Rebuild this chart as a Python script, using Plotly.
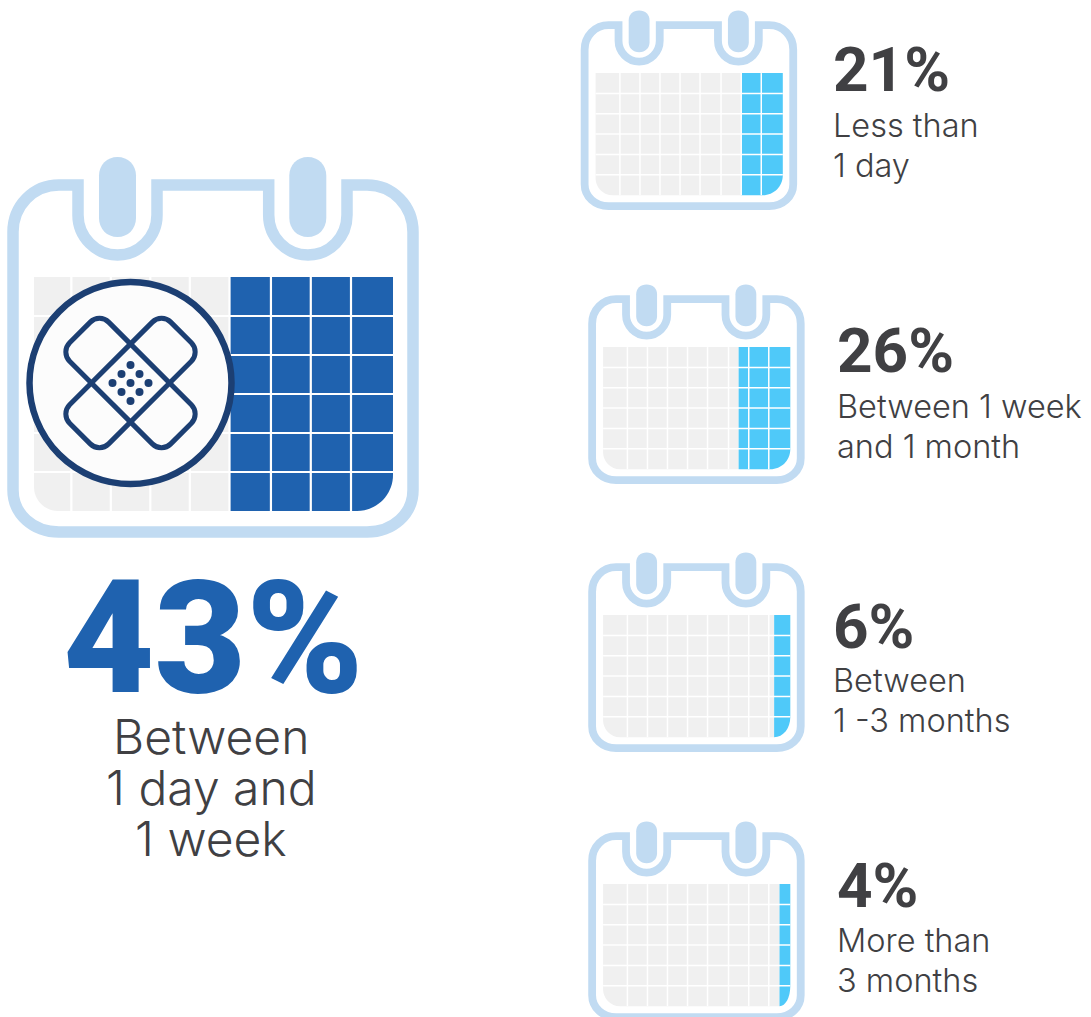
import math
import plotly.graph_objects as go

# Survey results: how long the recovery took
percent = [43, 21, 26, 6, 4]
first_line = ["Between", "Less than", "Between 1 week", "Between", "More than"]
second_line = ["1 day and", "1 day", "and 1 month", "1 -3 months", "3 months"]
third_line = ["1 week", "", "", "", ""]

WEEK_COLUMNS = 9
WEEK_ROWS = 6

FRAME = "#C1DBF2"
CELL = "#F0F0F0"
DARK_FILL = "#1F62AF"
LIGHT_FILL = "#4FC9F9"
INK = "#404043"
BADGE_LINE = "#1C3F73"
BADGE_FACE = "#FCFCFC"

# Calendar placement: left, top, scale, stroke, corner radii of the grid
SMALL_EDGES = [0, .13, .237, .344, .451, .558, .67, .778, .885, 1]
CALENDARS = [
    dict(x=7, y=179, s=1.0, stroke=11.5, line=2.2, r_in=24, r_out=36, fill=DARK_FILL, ring=0,
         edges=[0, .104, .214, .324, .434, .5446, .66, .771, .883, 1]),
    dict(x=581.5, y=22, s=.5215, stroke=7.8, line=1.5, r_in=17, r_out=20, fill=LIGHT_FILL, ring=3,
         edges=SMALL_EDGES),
    dict(x=589, y=296, s=.5215, stroke=7.8, line=1.5, r_in=17, r_out=20, fill=LIGHT_FILL, ring=3,
         edges=SMALL_EDGES),
    dict(x=589, y=564, s=.5215, stroke=7.8, line=1.5, r_in=17, r_out=20, fill=LIGHT_FILL, ring=3,
         edges=SMALL_EDGES),
    dict(x=589, y=833, s=.5215, stroke=7.8, line=1.5, r_in=17, r_out=20, fill=LIGHT_FILL, ring=3,
         edges=SMALL_EDGES),
]

# Text rows: left edge, percent row, first and second description rows
TEXT_ROWS = [
    (833, 69.5, 125, 165),
    (837, 350.5, 406, 446),
    (833, 626.5, 680, 720),
    (837, 885.5, 940, 980),
]

shapes = []


def add_path(d, fill=None, color=None, width=0, layer="above"):
    shapes.append(dict(
        type="path", path=d, xref="x", yref="y", layer=layer,
        fillcolor=fill if fill else "rgba(0,0,0,0)",
        line=dict(color=color if color else "rgba(0,0,0,0)", width=width),
    ))


def columns_filled(share):
    """Share of the week's columns, rounded up to the next quarter column."""
    return math.ceil(share / 100 * WEEK_COLUMNS * 4 - 1e-9) / 4


def draw_calendar(cal, share):
    ox, oy, s = cal["x"], cal["y"], cal["s"]

    def p(x, y):
        return f"{ox + s * (x - 7):.2f},{oy + s * (y - 179):.2f}"

    # Outline with the two loops dipping around the binder rings
    frame = (
        f"M{p(13, 232)} C{p(13, 206)} {p(33, 185)} {p(59, 185)} L{p(78, 185)} L{p(78, 215)} "
        f"C{p(78, 237)} {p(96, 255)} {p(117.5, 255)} C{p(139, 255)} {p(157, 237)} {p(157, 215)} "
        f"L{p(157, 185)} L{p(268.7, 185)} L{p(268.7, 215)} "
        f"C{p(268.7, 237)} {p(286, 255)} {p(308, 255)} C{p(330, 255)} {p(347, 237)} {p(347, 215)} "
        f"L{p(347, 185)} L{p(367, 185)} C{p(393, 185)} {p(413, 206)} {p(413, 232)} "
        f"L{p(413, 490)} C{p(413, 514)} {p(393, 532)} {p(367, 532)} "
        f"L{p(59, 532)} C{p(33, 532)} {p(13, 514)} {p(13, 490)} Z"
    )
    add_path(frame, color=FRAME, width=cal["stroke"])

    # Binder rings
    extra = cal["ring"] / 2
    for base in (99, 289.3):
        left, right, mid = base - extra, base + 37 + extra, base + 18.5
        add_path(
            f"M{p(left, 175.5)} C{p(left, 165)} {p(left + 8, 157)} {p(mid, 157)} "
            f"C{p(right - 8, 157)} {p(right, 165)} {p(right, 175.5)} L{p(right, 218)} "
            f"C{p(right, 229)} {p(right - 8, 237)} {p(mid, 237)} "
            f"C{p(left + 8, 237)} {p(left, 229)} {p(left, 218)} Z",
            fill=FRAME,
        )

    # Week grid: the grey part and the filled part share one boundary
    gx0, gx1, gy0, gy1 = 34.0, 393.0, 277.0, 511.0
    edges = cal["edges"]
    done = columns_filled(share)
    pos = WEEK_COLUMNS - done
    i = min(int(pos), WEEK_COLUMNS - 1)
    frac = edges[i] + (edges[i + 1] - edges[i]) * (pos - i)
    split = gx0 + (gx1 - gx0) * frac

    r_in = cal["r_in"] / s
    add_path(
        f"M{p(gx0, gy0)} L{p(split, gy0)} L{p(split, gy1)} L{p(gx0 + r_in, gy1)} "
        f"C{p(gx0 + r_in * .45, gy1)} {p(gx0, gy1 - r_in * .45)} {p(gx0, gy1 - r_in)} Z",
        fill=CELL,
    )
    r_y = cal["r_out"] / s
    r_x = min(r_y, gx1 - split)
    add_path(
        f"M{p(split, gy0)} L{p(gx1, gy0)} L{p(gx1, gy1 - r_y)} "
        f"C{p(gx1, gy1 - r_y * .45)} {p(gx1 - r_x * .45, gy1)} {p(gx1 - r_x, gy1)} "
        f"L{p(split, gy1)} Z",
        fill=cal["fill"],
    )

    # White rules between the day cells
    for e in edges[1:-1]:
        x = gx0 + (gx1 - gx0) * e
        add_path(f"M{p(x, gy0)} L{p(x, gy1)}", color="white", width=cal["line"])
    for r in range(1, WEEK_ROWS):
        y = gy0 + (gy1 - gy0) * r / WEEK_ROWS
        add_path(f"M{p(gx0, y)} L{p(gx1, y)}", color="white", width=cal["line"])


def draw_bandage_badge(cx, cy):
    radius = 101
    shapes.append(dict(
        type="circle", xref="x", yref="y", layer="above",
        x0=cx - radius, x1=cx + radius, y0=cy - radius, y1=cy + radius,
        fillcolor=BADGE_FACE, line=dict(color=BADGE_LINE, width=6.5),
    ))

    half_len, half_wid, corner = 71.5, 27.6, 13.0
    root = math.sqrt(.5)

    def rotated(u, v, sign):
        return f"{cx + (u - sign * v) * root:.2f},{cy + (sign * u + v) * root:.2f}"

    # Two rounded strips laid across each other at right angles
    for sign in (1, -1):
        c = corner * .45
        L, W, r = half_len, half_wid, corner
        d = (
            f"M{rotated(-L + r, -W, sign)} L{rotated(L - r, -W, sign)} "
            f"C{rotated(L - c, -W, sign)} {rotated(L, -W + c, sign)} {rotated(L, -W + r, sign)} "
            f"L{rotated(L, W - r, sign)} "
            f"C{rotated(L, W - c, sign)} {rotated(L - c, W, sign)} {rotated(L - r, W, sign)} "
            f"L{rotated(-L + r, W, sign)} "
            f"C{rotated(-L + c, W, sign)} {rotated(-L, W - c, sign)} {rotated(-L, W - r, sign)} "
            f"L{rotated(-L, -W + r, sign)} "
            f"C{rotated(-L, -W + c, sign)} {rotated(-L + c, -W, sign)} {rotated(-L + r, -W, sign)} Z"
        )
        add_path(d, color=BADGE_LINE, width=5)

    # Nine pad dots on a diagonal grid
    step, dot = 9.0, 4.0
    for a in (-1, 0, 1):
        for b in (-1, 0, 1):
            x = cx + (a - b) * step
            y = cy + (a + b) * step
            shapes.append(dict(
                type="circle", xref="x", yref="y", layer="above",
                x0=x - dot, x1=x + dot, y0=y - dot, y1=y + dot,
                fillcolor=BADGE_LINE, line=dict(width=0),
            ))


for calendar, value in zip(CALENDARS, percent):
    draw_calendar(calendar, value)
draw_bandage_badge(130.5, 383)

annotations = []


def add_text(x, y, text, size, color, family, weight, anchor="left"):
    annotations.append(dict(
        x=x, y=y, xref="x", yref="y", text=text, showarrow=False,
        xanchor=anchor, yanchor="middle", align=anchor,
        borderpad=0, borderwidth=0,
        font=dict(size=size, color=color, family=family, weight=weight),
    ))


add_text(213, 638, f"{percent[0]}%", 158, DARK_FILL, "Roboto", 900, "center")
add_text(211, 736, first_line[0], 48, INK, "Inter", 300, "center")
add_text(211, 787, second_line[0], 48, INK, "Inter", 300, "center")
add_text(211, 838, third_line[0], 48, INK, "Inter", 300, "center")

for k, (x, y_pct, y_one, y_two) in enumerate(TEXT_ROWS, start=1):
    add_text(x, y_pct, f"{percent[k]}%", 62, INK, "Roboto", 700)
    add_text(x, y_one, first_line[k], 32.5, INK, "Inter", 300)
    add_text(x, y_two, second_line[k], 32.5, INK, "Inter", 300)

fig = go.Figure()
fig.update_layout(
    width=1091, height=1017, margin=dict(l=0, r=0, t=0, b=0, pad=0),
    paper_bgcolor="white", plot_bgcolor="white", showlegend=False,
    xaxis=dict(range=[0, 1091], visible=False, fixedrange=True),
    yaxis=dict(range=[1017, 0], visible=False, fixedrange=True),
    shapes=shapes, annotations=annotations,
)
fig.write_html("out.html", config=dict(displayModeBar=False))
